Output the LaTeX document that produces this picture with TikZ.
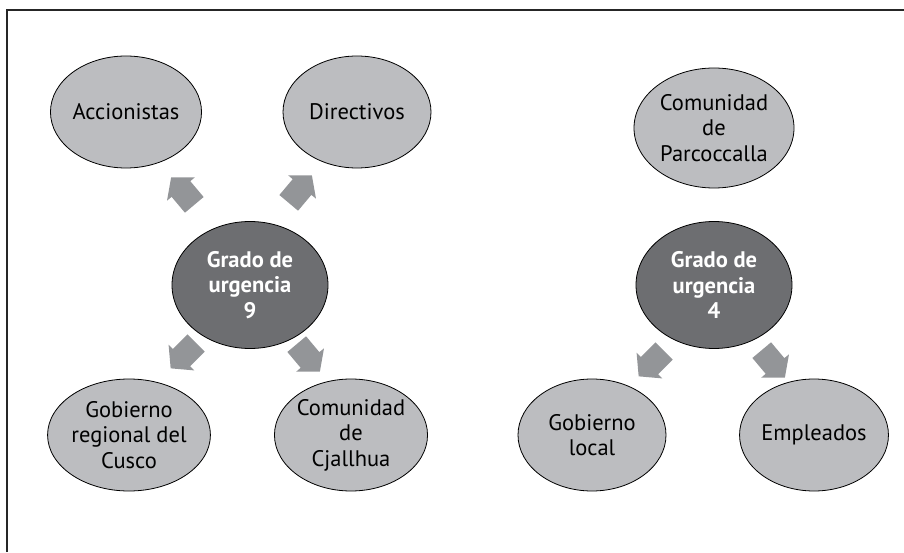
\documentclass[tikz,border=0pt]{standalone}
\usepackage{fontspec}
\setmainfont{PT Sans}
\usetikzlibrary{shapes.geometric,shapes.arrows}

\definecolor{grisclaro}{HTML}{BCBDC0}
\definecolor{grisoscuro}{HTML}{6D6E71}
\definecolor{grisflecha}{HTML}{939598}

\begin{document}
\begin{tikzpicture}[x=1pt,y=1pt,
  actor/.style={ellipse, draw=black, line width=0.8pt, fill=grisclaro, minimum width=148pt, minimum height=112pt, inner sep=0pt, align=center, font=\fontsize{22.5}{25.5}\selectfont},
  urgencia/.style={ellipse, draw=black, line width=0.8pt, fill=grisoscuro, text=white, minimum width=156pt, minimum height=127pt, inner sep=0pt, align=center, font=\fontsize{22.5}{25.5}\selectfont\bfseries},
  flecha/.style={single arrow, fill=grisflecha, minimum height=36pt, inner xsep=0pt, inner ysep=12pt, single arrow head extend=6pt, single arrow tip angle=100}]
  \useasboundingbox (0,0) rectangle (904,552);
  \draw [line width=1.6pt, black!85] (7,0) -- (7,542) -- (904,542);

  % grado de urgencia 9
  \draw (250,267) node[urgencia] (urg9) {Grado de\\urgencia\\9};
  \draw (126,440) node[actor] (accionistas) {Accionistas};
  \draw (357,440) node[actor] (directivos) {Directivos};
  \draw (129,117) node[actor] (cusco) {Gobierno\\regional del\\Cusco};
  \draw (351,117) node[actor] (cjallhua) {Comunidad\\de\\Cjallhua};

  \draw (186,357) node[flecha, rotate=130] (f1) {};
  \draw (297,359) node[flecha, rotate=50] (f2) {};
  \draw (187,200) node[flecha, rotate=-135] (f3) {};
  \draw (305,198) node[flecha, rotate=-50] (f4) {};

  % grado de urgencia 4
  \draw (714,267) node[urgencia] (urg4) {Grado de\\urgencia\\4};
  \draw (714,424) node[actor, minimum width=160pt, minimum height=120pt] (parcoccalla) {Comunidad\\de\\Parcoccalla};
  \draw (592,117) node[actor] (local) {Gobierno\\local};
  \draw (814,117) node[actor] (empleados) {Empleados};

  \draw (655,192) node[flecha, rotate=-135] (f5) {};
  \draw (770,192) node[flecha, rotate=-50] (f6) {};
\end{tikzpicture}
\end{document}
